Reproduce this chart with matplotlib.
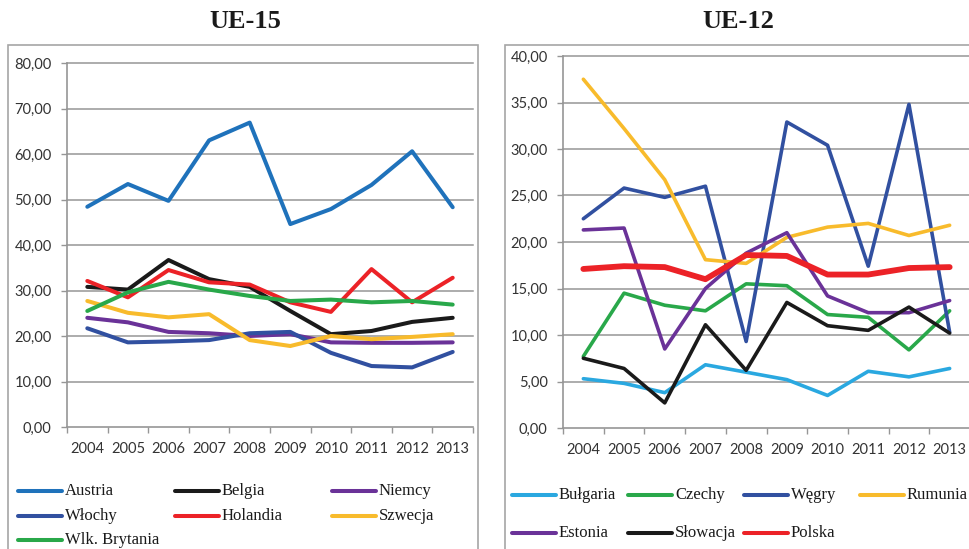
import numpy as np
import matplotlib
matplotlib.use("Agg")
import matplotlib.pyplot as plt
from matplotlib.lines import Line2D
from matplotlib.patches import Rectangle

W, H = 970, 549

years = ["2004", "2005", "2006", "2007", "2008", "2009", "2010", "2011", "2012", "2013"]

# UE-15
austria = [48.4, 53.4, 49.7, 63.0, 66.9, 44.6, 47.9, 53.2, 60.6, 48.3]
belgia = [30.8, 30.2, 36.7, 32.5, 30.8, 25.5, 20.4, 21.1, 23.1, 24.0]
niemcy = [24.0, 23.0, 20.9, 20.6, 20.0, 20.4, 18.6, 18.5, 18.5, 18.6]
wlochy = [21.7, 18.6, 18.8, 19.1, 20.6, 20.9, 16.3, 13.4, 13.1, 16.5]
holandia = [32.1, 28.5, 34.5, 31.8, 31.3, 27.4, 25.3, 34.7, 27.4, 32.8]
szwecja = [27.7, 25.1, 24.1, 24.8, 19.1, 17.8, 20.0, 19.3, 19.8, 20.4]
wlk_brytania = [25.5, 29.6, 31.9, 30.2, 28.8, 27.7, 28.0, 27.4, 27.7, 26.9]

# UE-12
bulgaria = [5.3, 4.8, 3.8, 6.8, 6.0, 5.2, 3.5, 6.1, 5.5, 6.4]
czechy = [7.7, 14.5, 13.2, 12.6, 15.5, 15.3, 12.2, 11.9, 8.4, 12.6]
wegry = [22.5, 25.8, 24.8, 26.0, 9.3, 32.9, 30.4, 17.4, 34.8, 10.3]
rumunia = [37.5, 32.2, 26.7, 18.1, 17.7, 20.5, 21.6, 22.0, 20.7, 21.8]
estonia = [21.3, 21.5, 8.5, 15.0, 18.8, 21.0, 14.2, 12.4, 12.4, 13.7]
slowacja = [7.5, 6.4, 2.7, 11.1, 6.2, 13.5, 11.0, 10.5, 13.0, 10.2]
polska = [17.1, 17.4, 17.3, 16.0, 18.6, 18.5, 16.5, 16.5, 17.2, 17.3]

ue15 = [
    ("Austria", austria, "#1f72bb"),
    ("Belgia", belgia, "#1a1a1a"),
    ("Niemcy", niemcy, "#6a3298"),
    ("Włochy", wlochy, "#3150a0"),
    ("Holandia", holandia, "#ec2227"),
    ("Szwecja", szwecja, "#f8bb2c"),
    ("Wlk. Brytania", wlk_brytania, "#29a84a"),
]
ue12 = [
    ("Bułgaria", bulgaria, "#2aa8e0", 2.6),
    ("Czechy", czechy, "#29a84a", 2.6),
    ("Węgry", wegry, "#3150a0", 2.6),
    ("Rumunia", rumunia, "#f8bb2c", 2.6),
    ("Estonia", estonia, "#6a3298", 2.6),
    ("Słowacja", slowacja, "#1a1a1a", 2.6),
    ("Polska", polska, "#ec2227", 4.2),
]

GRID = "#969696"
TICK_FONT = "Lato"
SERIF = "Liberation Serif"


def fx(x):
    return x / W


def fy(y):
    return 1 - y / H


def style_axes(ax, ymax, step):
    x = np.arange(len(years))
    ax.set_xlim(-0.5, len(years) - 0.5)
    ax.set_ylim(0, ymax)
    ax.set_xticks(np.arange(-0.5, len(years), 1))
    ax.set_xticklabels([])
    ax.set_xticks(x, minor=True)
    ax.set_xticklabels(years, minor=True, fontfamily=TICK_FONT,
                       fontsize=10.5, color="#333333")
    ax.tick_params(axis="x", which="major", length=4, color=GRID, width=1)
    ax.tick_params(axis="x", which="minor", length=0, pad=11)
    yt = np.arange(0, ymax + 0.1, step)
    ax.set_yticks(yt)
    ax.set_yticklabels([f"{v:.2f}".replace(".", ",") for v in yt],
                       fontfamily=TICK_FONT, fontsize=10.5, color="#333333")
    ax.tick_params(axis="y", length=4, color=GRID, width=1, pad=7)
    for s in ("top", "right"):
        ax.spines[s].set_visible(False)
    for s in ("left", "bottom"):
        ax.spines[s].set_color(GRID)
        ax.spines[s].set_linewidth(1.2)
    for v in yt[1:]:
        ax.axhline(v, color=GRID, lw=1.1, zorder=0, clip_on=False)


def legend_key(fig, x, y, label, color, lw):
    fig.add_artist(Line2D([fx(x), fx(x + 44)], [fy(y), fy(y)], color=color,
                          lw=lw, solid_capstyle="round"))
    fig.text(fx(x + 47), fy(y), label, fontfamily=SERIF, fontsize=12,
             va="center", ha="left", color="#1a1a1a")


fig = plt.figure(figsize=(W / 100, H / 100), dpi=100)

# panel frames
fig.add_artist(Rectangle((fx(8), fy(560)), fx(478) - fx(8), fy(45) - fy(560),
                         fill=False, edgecolor="#a6a6a6", lw=1.2))
fig.add_artist(Rectangle((fx(505), fy(560)), fx(985) - fx(505), fy(45) - fy(560),
                         fill=False, edgecolor="#a6a6a6", lw=1.2))

fig.text(fx(245), fy(22), "UE-15", fontfamily=SERIF, fontweight="bold",
         fontsize=19, ha="center", va="center", color="#1a1a1a")
fig.text(fx(738), fy(22), "UE-12", fontfamily=SERIF, fontweight="bold",
         fontsize=19, ha="center", va="center", color="#1a1a1a")

ax1 = fig.add_axes([fx(67), fy(427), fx(473) - fx(67), fy(63) - fy(427)])
ax2 = fig.add_axes([fx(563), fy(428), fx(970) - fx(563), fy(56) - fy(428)])
ax1.patch.set_alpha(0)
ax2.patch.set_alpha(0)

x = np.arange(len(years))
for name, vals, col in ue15:
    ax1.plot(x, vals, color=col, lw=2.9, solid_joinstyle="round",
             solid_capstyle="round", label=name)
for name, vals, col, lw in ue12:
    ax2.plot(x, vals, color=col, lw=lw, solid_joinstyle="round",
             solid_capstyle="round", label=name)

style_axes(ax1, 80, 10)
style_axes(ax2, 40, 5)

# legends laid out on a fixed grid
left_cols = [18, 175, 332]
left_rows = [491, 516, 540]
for i, (name, vals, col) in enumerate(ue15):
    legend_key(fig, left_cols[i % 3], left_rows[i // 3], name, col, 2.9)

right_cols = [512, 628, 744, 860]
right_rows = [495, 533]
for i, (name, vals, col, lw) in enumerate(ue12):
    legend_key(fig, right_cols[i % 4], right_rows[i // 4], name, col, 2.9)

fig.savefig("out.png", dpi=100)
